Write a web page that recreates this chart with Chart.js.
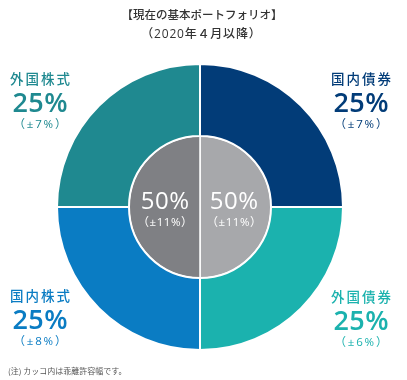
<!DOCTYPE html>
<html>
<head>
<meta charset="utf-8">
<script src="https://cdn.jsdelivr.net/npm/chart.js@4"></script>
<style>
html,body{margin:0;padding:0;background:#fff;}
#wrap{position:relative;width:407px;height:380px;}
</style>
</head>
<body>
<div id="wrap"><canvas id="c" width="407" height="380"></canvas></div>
<script>
// ---- data ----
const titleLines = ['【現在の基本ポートフォリオ】', '（2020年４月以降）'];
const outerCategories = ['国内債券', '外国債券', '国内株式', '外国株式'];
const outerValues = [25, 25, 25, 25];
const outerTolerance = [7, 6, 8, 7];
const innerCategories = ['債券', '株式'];
const innerValues = [50, 50];
const innerTolerance = [11, 11];
const footnote = '(注) カッコ内は乖離許容幅です。';

// ---- styles ----
const outerColors = ['#023c78', '#1bb2ae', '#0a7cc3', '#1f8990'];
const innerColors = ['#a7a8ab', '#7f8084'];
const CJK = '"Noto Sans CJK JP", "Noto Sans", sans-serif';
const LAT = '"Open Sans", "Noto Sans CJK JP", sans-serif';

function txt(ctx, s, x, y, font, color, spacing) {
  ctx.save();
  ctx.font = font;
  ctx.fillStyle = color;
  ctx.textBaseline = 'middle';
  try { ctx.letterSpacing = (spacing || 0) + 'px'; } catch (e) {}
  const w = ctx.measureText(s).width - (spacing || 0);
  ctx.textAlign = 'left';
  ctx.fillText(s, x - w / 2, y);
  ctx.restore();
}

const labelPlugin = {
  id: 'labels',
  afterDraw(chart) {
    const ctx = chart.ctx;
    const meta0 = chart.getDatasetMeta(0);
    const meta1 = chart.getDatasetMeta(1);
    const arc = meta0.data[0];
    const cx = arc.x, cy = arc.y;

    // title
    txt(ctx, titleLines[0], cx + 2, 15, '500 11.5px ' + CJK, '#333333', 0);
    txt(ctx, titleLines[1], cx + 1, 35, '500 12px ' + LAT, '#333333', 0.8);

    // outer corner labels (positions relative to pie center)
    const pos = [
      [cx + 161, cy - 128], // 国内債券 top-right
      [cx + 161, cy + 90],  // 外国債券 bottom-right
      [cx - 160, cy + 89],  // 国内株式 bottom-left
      [cx - 160, cy - 128]  // 外国株式 top-left
    ];
    outerCategories.forEach((name, i) => {
      const [x, y] = pos[i];
      const col = outerColors[i];
      txt(ctx, name, x, y, '500 13.5px ' + CJK, col, 2);
      txt(ctx, outerValues[i] + '%', x, y + 25, '600 27px ' + LAT, col, 0.5);
      txt(ctx, '（±' + outerTolerance[i] + '%）', x, y + 46, '400 11.5px ' + LAT, col, 1.8);
    });

    // inner labels
    meta1.data.forEach((a, i) => {
      const x = i === 0 ? cx + 34 : cx - 35;
      txt(ctx, innerValues[i] + '%', x, cy - 5, '400 24px ' + LAT, '#ffffff', 0.5);
      txt(ctx, '（±' + innerTolerance[i] + '%）', x, cy + 16, '400 11.5px ' + LAT, '#ffffff', 0.6);
    });

    // footnote
    ctx.save();
    ctx.font = '400 8px ' + CJK;
    ctx.fillStyle = '#555555';
    ctx.textBaseline = 'middle';
    ctx.textAlign = 'left';
    ctx.fillText(footnote, 8, 371);
    ctx.restore();
  }
};

new Chart(document.getElementById('c'), {
  type: 'doughnut',
  data: {
    labels: outerCategories,
    datasets: [
      {
        data: outerValues,
        backgroundColor: outerColors,
        borderColor: '#ffffff',
        borderWidth: 2,
        weight: 72
      },
      {
        data: innerValues,
        labels: innerCategories,
        backgroundColor: innerColors,
        borderColor: '#ffffff',
        borderWidth: 1.5,
        weight: 71
      }
    ]
  },
  options: {
    responsive: false,
    animation: false,
    cutout: 0,
    radius: 143,
    layout: { padding: { left: 0, right: 7, top: 34, bottom: 0 } },
    plugins: { legend: { display: false }, tooltip: { enabled: false }, title: { display: false } },
    events: []
  },
  plugins: [labelPlugin]
});
</script>
</body>
</html>
